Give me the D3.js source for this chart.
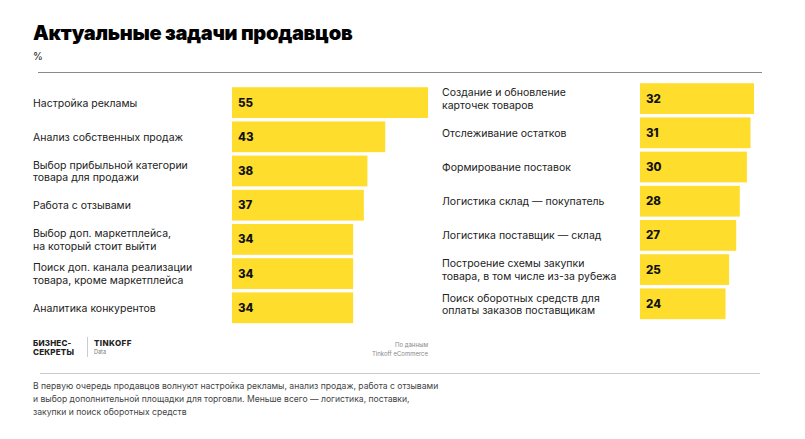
<!DOCTYPE html>
<html><head><meta charset="utf-8">
<script src="https://cdn.jsdelivr.net/npm/d3@7"></script>
<style>body{margin:0;background:#fff}svg{display:block;font-family:Inter,"Noto Sans",sans-serif}</style>
</head><body><svg id="c" width="805" height="439"></svg>
<script>
const leftCategories = [
  ["Настройка рекламы"],
  ["Анализ собственных продаж"],
  ["Выбор прибыльной категории", "товара для продажи"],
  ["Работа с отзывами"],
  ["Выбор доп. маркетплейса,", "на который стоит выйти"],
  ["Поиск доп. канала реализации", "товара, кроме маркетплейса"],
  ["Аналитика конкурентов"]
];
const leftValues = [55, 43, 38, 37, 34, 34, 34];
const rightCategories = [
  ["Создание и обновление", "карточек товаров"],
  ["Отслеживание остатков"],
  ["Формирование поставок"],
  ["Логистика склад — покупатель"],
  ["Логистика поставщик — склад"],
  ["Построение схемы закупки", "товара, в том числе из-за рубежа"],
  ["Поиск оборотных средств для", "оплаты заказов поставщикам"]
];
const rightValues = [32, 31, 30, 28, 27, 25, 24];

const svg = d3.select("#c");
const yellow = "#FFDD2D";

svg.append("text").attr("x", 33).attr("y", 40).attr("font-size", 20).attr("font-weight", 900)
  .attr("fill", "#000").attr("letter-spacing", -0.3).text("Актуальные задачи продавцов");
svg.append("text").attr("x", 33).attr("y", 60).attr("font-size", 10).attr("fill", "#222").text("%");
svg.append("line").attr("x1", 38).attr("x2", 762).attr("y1", 72.5).attr("y2", 72.5).attr("stroke", "#8a8a8a").attr("stroke-width", 1);

const x = d3.scaleLinear().domain([0, 55]).range([0, 196]);

function panel(cats, vals, labelX, barX, top) {
  const y = d3.scaleBand().domain(d3.range(vals.length)).range([top, top + 34.2 * 7]).paddingInner(0.1).paddingOuter(0.05);
  const g = svg.append("g");
  const rows = g.selectAll("g").data(vals).join("g");
  rows.append("rect").attr("x", barX).attr("y", (d, i) => y(i)).attr("width", d => x(d)).attr("height", y.bandwidth()).attr("fill", yellow);
  rows.append("text").attr("x", barX + 6).attr("y", (d, i) => y(i) + y.bandwidth() / 2 + 4)
    .attr("font-size", 11.5).attr("font-weight", 800).attr("fill", "#111").text(d => d);
  rows.append("text").attr("font-size", 10.5).attr("fill", "#222")
    .each(function (d, i) {
      const lines = cats[i];
      const cy = y(i) + y.bandwidth() / 2;
      const lh = 12.5;
      const t = d3.select(this);
      lines.forEach((l, k) => {
        t.append("tspan").attr("x", labelX).attr("y", cy + 4 + (k - (lines.length - 1) / 2) * lh).text(l);
      });
    });
}
panel(leftCategories, leftValues, 33, 232, 85.5);
panel(rightCategories, rightValues, 442, 640, 81.5);

// footer
const f = svg.append("g");
f.append("text").attr("x", 33).attr("y", 346).attr("font-size", 8).attr("font-weight", 800).attr("fill", "#222").attr("letter-spacing", 0.2).text("БИЗНЕС-");
f.append("text").attr("x", 33).attr("y", 355).attr("font-size", 8).attr("font-weight", 800).attr("fill", "#222").attr("letter-spacing", 0.2).text("СЕКРЕТЫ");
f.append("line").attr("x1", 87.5).attr("x2", 87.5).attr("y1", 337).attr("y2", 357).attr("stroke", "#ccc");
f.append("text").attr("x", 94).attr("y", 346).attr("font-size", 8).attr("font-weight", 800).attr("fill", "#222").attr("letter-spacing", 0.4).text("TINKOFF");
f.append("text").attr("x", 94).attr("y", 354).attr("font-size", 5.5).attr("fill", "#777").text("Data");
f.append("text").attr("x", 428).attr("y", 347).attr("text-anchor", "end").attr("font-size", 6).attr("fill", "#888").text("По данным");
f.append("text").attr("x", 428).attr("y", 355.5).attr("text-anchor", "end").attr("font-size", 6).attr("fill", "#888").text("Tinkoff eCommerce");
svg.append("line").attr("x1", 40).attr("x2", 760).attr("y1", 373.5).attr("y2", 373.5).attr("stroke", "#ccc");

const caption = [
  "В первую очередь продавцов волнуют настройка рекламы, анализ продаж, работа с отзывами",
  "и выбор дополнительной площадки для торговли. Меньше всего — логистика, поставки,",
  "закупки и поиск оборотных средств"
];
svg.append("g").selectAll("text").data(caption).join("text")
  .attr("x", 33).attr("y", (d, i) => 389 + i * 13).attr("font-size", 8.6).attr("fill", "#444").text(d => d);
</script></body></html>
